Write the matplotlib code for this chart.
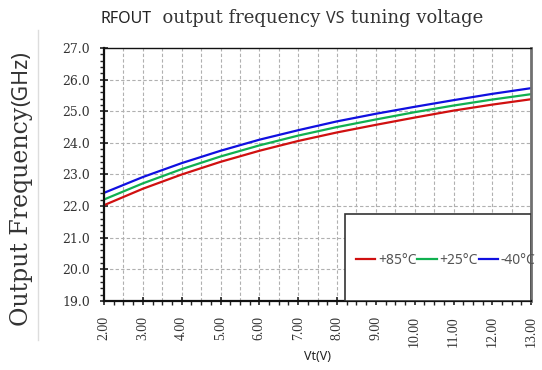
import matplotlib
matplotlib.use("Agg")
import matplotlib.pyplot as plt
from matplotlib.patches import Rectangle
from matplotlib.lines import Line2D
from matplotlib.ticker import MultipleLocator, FormatStrFormatter

# tuning voltage (V)
vt = [2, 3, 4, 5, 6, 7, 8, 9, 10, 11, 12, 13]
# output frequency (GHz) per temperature
f_85 = [22.03, 22.55, 23.00, 23.40, 23.75, 24.06, 24.33, 24.57, 24.80, 25.02, 25.21, 25.38]
f_25 = [22.21, 22.72, 23.17, 23.57, 23.92, 24.23, 24.50, 24.74, 24.97, 25.18, 25.37, 25.54]
f_m40 = [22.42, 22.92, 23.36, 23.75, 24.10, 24.40, 24.68, 24.92, 25.14, 25.35, 25.55, 25.73]
labels = ["+85°C", "+25°C", "-40°C"]
colors = ["#d01010", "#10b050", "#1010e0"]

serif = "DejaVu Serif"
sans = "Noto Sans"

fig = plt.figure(figsize=(5.42, 3.70), dpi=100)
ax = fig.add_axes([0.192, 0.1865, 0.788, 0.6838])

lines = []
for ys, c in zip([f_85, f_25, f_m40], colors):
    l, = ax.plot(vt, ys, color=c, lw=1.6)
    lines.append(l)

ax.set_xlim(2, 13)
ax.set_ylim(19, 27)
ax.xaxis.set_major_locator(MultipleLocator(1))
ax.xaxis.set_minor_locator(MultipleLocator(0.25))
ax.yaxis.set_major_locator(MultipleLocator(1))
ax.yaxis.set_minor_locator(MultipleLocator(0.2))
ax.xaxis.set_major_formatter(FormatStrFormatter("%.2f"))
ax.yaxis.set_major_formatter(FormatStrFormatter("%.1f"))

# grid: vertical every 0.5 V, horizontal every 1 GHz
for x in [2.5 + 0.5 * i for i in range(21)]:
    ax.axvline(x, color="#b0b0b0", lw=0.8, ls=(0, (3, 2)), zorder=0)
for y in range(20, 27):
    ax.axhline(y, color="#b0b0b0", lw=0.8, ls=(0, (3, 2)), zorder=0)

ax.tick_params(axis="both", which="major", direction="inout", length=6, width=1.2, color="#222222")
ax.tick_params(axis="both", which="minor", direction="out", length=3, width=1.0, color="#222222")
ax.tick_params(axis="x", which="major", labelsize=9, labelrotation=90, pad=8)
ax.tick_params(axis="y", which="major", labelsize=9, pad=7)
for t in ax.get_xticklabels():
    t.set_fontfamily("Liberation Serif")
    t.set_fontsize(10)
    t.set_color("#333333")
for t in ax.get_yticklabels():
    t.set_fontfamily(serif)
    t.set_color("#333333")

for s in ["left", "bottom"]:
    ax.spines[s].set_linewidth(1.6)
    ax.spines[s].set_color("#111111")
ax.spines["top"].set_linewidth(1.0)
ax.spines["top"].set_color("#111111")
ax.spines["right"].set_linewidth(2.0)
ax.spines["right"].set_color("#707070")

ax.set_xlabel("Vt(V)", fontsize=9, family=sans, color="#222222", labelpad=2)

# legend box
ax.add_patch(Rectangle((0.564, 0.0), 0.436, 0.344, transform=ax.transAxes,
                       facecolor="white", edgecolor="#333333", lw=1.2, zorder=5))
leg = ax.legend(lines, labels, ncol=3, frameon=False, loc="center",
                bbox_to_anchor=(0.80, 0.16), handlelength=1.4, handletextpad=0.2,
                columnspacing=0.05, prop={"family": sans, "size": 10})
leg.set_zorder(6)
for t in leg.get_texts():
    t.set_color("#555555")

# title composed of mixed fonts
prev = fig.text(0.185, 0.938, "RFOUT", fontsize=11.5, family=sans, color="#222222", va="baseline")
for txt, fam, fs in [("  output frequency ", serif, 13), ("VS", sans, 11.5), (" tuning voltage", serif, 13)]:
    prev = ax.annotate(txt, xy=(1, 0), xycoords=prev, va="bottom", ha="left",
                       fontsize=fs, family=fam, color="#333333", annotation_clip=False)

# y label composed of mixed fonts (rotated)
prev = fig.text(0.040, 0.12, "Output Frequency", fontsize=17, family=serif, color="#333333",
                rotation=90, ha="center", va="bottom")
ax.annotate("(GHz)", xy=(0.5, 1), xycoords=prev, va="bottom", ha="center",
            fontsize=15.5, family=sans, fontweight="bold", color="#333333",
            rotation=90, annotation_clip=False)

# faint separator line at the left
fig.add_artist(Line2D([0.07, 0.07], [0.08, 0.92], color="#dddddd", lw=1))

fig.savefig("out.png", dpi=100)
